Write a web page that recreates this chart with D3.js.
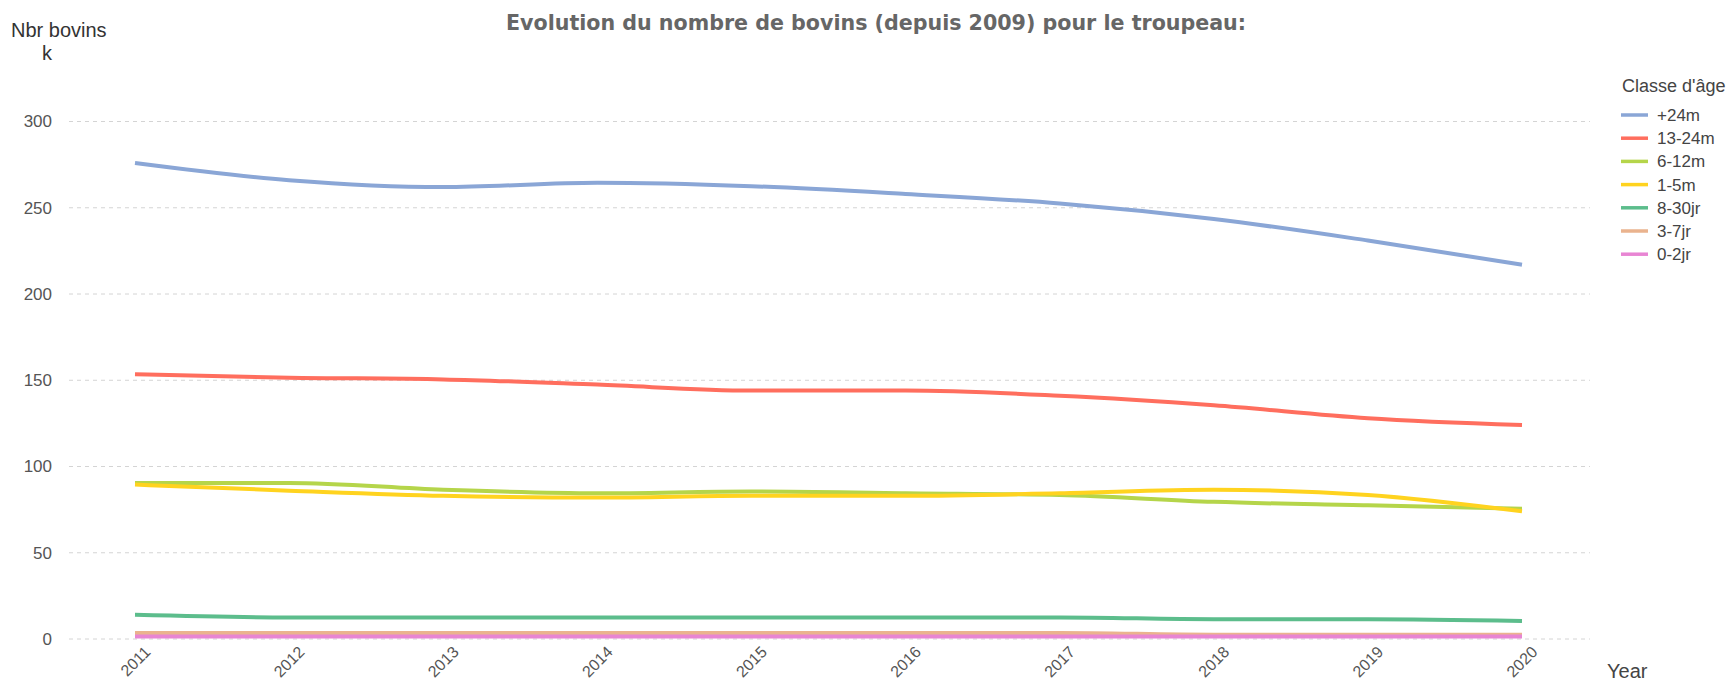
<!DOCTYPE html>
<html>
<head>
<meta charset="utf-8">
<script src="https://cdn.jsdelivr.net/npm/d3@7"></script>
<style>
  body { margin: 0; background: #fff; }
  svg { display: block; }
</style>
</head>
<body>
<script>
const years = [2011, 2012, 2013, 2014, 2015, 2016, 2017, 2018, 2019, 2020];
const classes = ["+24m", "13-24m", "6-12m", "1-5m", "8-30jr", "3-7jr", "0-2jr"];
const colors = ["#8aa6d6", "#ff6e5e", "#b5d54a", "#ffd31f", "#5cbd8c", "#eab38e", "#e885d3"];

// values in thousands (k)
const plus24m = [276, 266, 262, 264.5, 262.5, 258, 252.5, 243.5, 231, 217];
const m13to24 = [153.5, 151.5, 150.5, 147.5, 144, 144, 141, 135.5, 128, 124];
const m6to12 = [90.5, 90.5, 86.5, 84.5, 85.5, 84.5, 83.5, 79.5, 77.5, 75.5];
const m1to5 = [89.5, 86, 83, 82, 83, 83, 84.5, 86.5, 83.5, 74];
const jr8to30 = [14, 12.5, 12.5, 12.5, 12.5, 12.5, 12.5, 11.5, 11.5, 10.5];
const jr3to7 = [3.5, 3.5, 3.5, 3.5, 3.5, 3.5, 3.5, 2.5, 2.5, 2.5];
const jr0to2 = [1.5, 1.5, 1.5, 1.5, 1.5, 1.5, 1.5, 1.5, 1.5, 1.5];

const yTicks = [0, 50, 100, 150, 200, 250, 300];

const series = [plus24m, m13to24, m6to12, m1to5, jr8to30, jr3to7, jr0to2];

const width = 1734;
const height = 686;

const svg = d3.select("body")
  .append("svg")
  .attr("width", width)
  .attr("height", height)
  .style("font-family", "'Liberation Sans', Arial, sans-serif");

const x = d3.scalePoint()
  .domain(years)
  .range([135, 1522]);

const y = d3.scaleLinear()
  .domain([0, 300])
  .range([639, 121.5]);

// Title
svg.append("text")
  .attr("x", 876)
  .attr("y", 30)
  .attr("text-anchor", "middle")
  .attr("textLength", 740)
  .attr("lengthAdjust", "spacingAndGlyphs")
  .style("font-family", "'DejaVu Sans Condensed', 'DejaVu Sans', sans-serif")
  .style("font-weight", "bold")
  .style("font-size", "21px")
  .style("fill", "#666")
  .text("Evolution du nombre de bovins (depuis 2009) pour le troupeau:");

// Y axis title
svg.append("text")
  .attr("x", 11)
  .attr("y", 37)
  .style("font-size", "20px")
  .style("fill", "#333")
  .text("Nbr bovins");

svg.append("text")
  .attr("x", 42)
  .attr("y", 60)
  .style("font-size", "20px")
  .style("fill", "#333")
  .text("k");

// Grid lines
svg.append("g")
  .selectAll("line")
  .data(yTicks)
  .enter()
  .append("line")
  .attr("x1", 69)
  .attr("x2", 1590)
  .attr("y1", d => y(d))
  .attr("y2", d => y(d))
  .style("stroke", "#d4d4d4")
  .style("stroke-dasharray", "4,4")
  .style("stroke-width", 1);

// Y axis labels
const yAxis = d3.axisLeft(y).tickValues(yTicks).tickSize(0).tickPadding(0);
svg.append("g")
  .attr("transform", "translate(52,0)")
  .call(yAxis)
  .call(g => g.select(".domain").remove())
  .selectAll("text")
  .style("font-size", "17px")
  .style("font-family", "'Liberation Sans', Arial, sans-serif")
  .style("fill", "#555");

// X axis labels
const xAxis = d3.axisBottom(x).tickSize(0).tickPadding(0);
svg.append("g")
  .attr("transform", "translate(0,639)")
  .call(xAxis)
  .call(g => g.select(".domain").remove())
  .selectAll("text")
  .attr("text-anchor", "end")
  .attr("dy", 0)
  .attr("transform", "translate(16,14) rotate(-45)")
  .style("font-size", "16px")
  .style("font-family", "'Liberation Sans', Arial, sans-serif")
  .style("fill", "#555");

svg.append("text")
  .attr("x", 1607)
  .attr("y", 678)
  .style("font-size", "20px")
  .style("fill", "#444")
  .text("Year");

// Lines
const line = d3.line()
  .x((d, i) => x(years[i]))
  .y(d => y(d))
  .curve(d3.curveMonotoneX);

svg.append("g")
  .selectAll("path")
  .data(series)
  .enter()
  .append("path")
  .attr("d", d => line(d))
  .style("fill", "none")
  .style("stroke", (d, i) => colors[i])
  .style("stroke-width", 4)
  .style("stroke-linecap", "butt");

// Legend
const legend = svg.append("g").attr("transform", "translate(1621,0)");

legend.append("text")
  .attr("x", 1)
  .attr("y", 92)
  .style("font-size", "18px")
  .style("fill", "#444")
  .text("Classe d'âge");

const item = legend.selectAll("g.item")
  .data(classes)
  .enter()
  .append("g")
  .attr("class", "item")
  .attr("transform", (d, i) => "translate(0," + (115 + i * 23.2) + ")");

item.append("line")
  .attr("x1", 0)
  .attr("x2", 27)
  .style("stroke", (d, i) => colors[i])
  .style("stroke-width", 3.5);

item.append("text")
  .attr("x", 36)
  .attr("y", 6)
  .style("font-size", "17px")
  .style("fill", "#444")
  .text(d => d);
</script>
</body>
</html>
